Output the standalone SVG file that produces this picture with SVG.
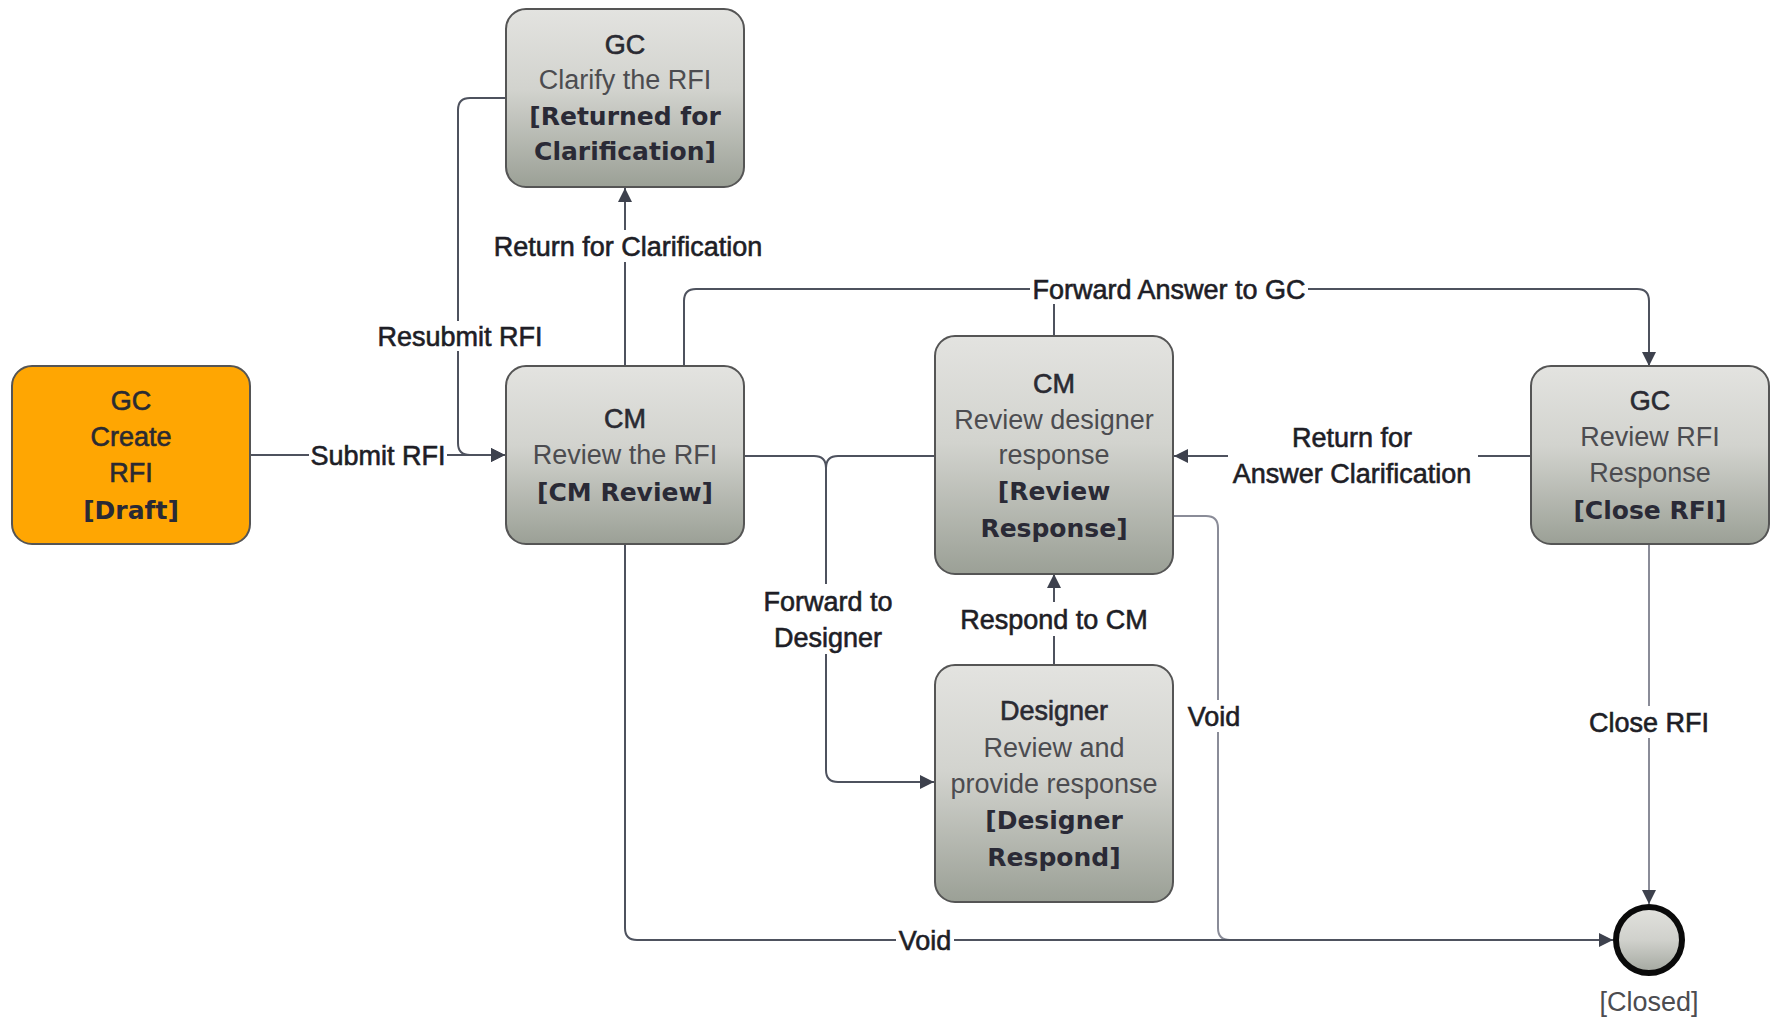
<svg xmlns="http://www.w3.org/2000/svg" width="1771" height="1018" viewBox="0 0 1771 1018">
<defs>
<linearGradient id="gray" x1="0" y1="0" x2="0" y2="1">
<stop offset="0" stop-color="#e3e3e0"/>
<stop offset="0.45" stop-color="#d2d3ce"/>
<stop offset="1" stop-color="#9ba096"/>
</linearGradient>
<linearGradient id="endg" x1="0" y1="0" x2="0" y2="1">
<stop offset="0" stop-color="#e2e2de"/>
<stop offset="0.5" stop-color="#d0d1cc"/>
<stop offset="1" stop-color="#a3a79f"/>
</linearGradient>
<marker id="arr" markerUnits="userSpaceOnUse" markerWidth="16" markerHeight="14" refX="14" refY="7" orient="auto">
<path d="M0,0 L14,7 L0,14 z" fill="#3d414d"/>
</marker>
<style>
.node{stroke:#555;stroke-width:2}
.gray{fill:url(#gray)}
.orange{fill:#ffa602}
.t{font-family:"Liberation Sans",Arial,sans-serif;font-size:27px;text-anchor:middle}
.title{fill:#2a2a32;stroke:#2a2a32;stroke-width:0.6}
.desc{fill:#4c4c50}
.status{font-family:"DejaVu Sans",sans-serif;font-weight:bold;font-size:25px;fill:#2a2a36;text-anchor:middle}
.line{fill:none;stroke:#4e525e;stroke-width:2}
.light{stroke:#8a8c98}
.lbl{font-family:"Liberation Sans",Arial,sans-serif;font-size:27px;fill:#1e1e26;stroke:#1e1e26;stroke-width:0.6;text-anchor:middle}
.bg{fill:#fff}
</style>
</defs>
<rect width="1771" height="1018" fill="#fff"/>

<g id="connectors">
<path class="line" d="M251,455 H505" marker-end="url(#arr)"/>
<path class="line" d="M505,98 H470 Q458,98 458,110 V443 Q458,455 470,455 H505" marker-end="url(#arr)"/>
<path class="line" d="M625,366 V188" marker-end="url(#arr)"/>
<path class="line" d="M684,366 V301 Q684,289 696,289 H1637 Q1649,289 1649,301 V366" marker-end="url(#arr)"/>
<path class="line" d="M1054,335 V289"/>
<path class="line" d="M744,456 H814 Q826,456 826,468"/>
<path class="line" d="M934,456 H838 Q826,456 826,468 V770 Q826,782 838,782 H934" marker-end="url(#arr)"/>
<path class="line" d="M1054,664 V574" marker-end="url(#arr)"/>
<path class="line" d="M1530,456 H1174" marker-end="url(#arr)"/>
<path class="line light" d="M1174,516 H1206 Q1218,516 1218,528 V928 Q1218,940 1230,940"/>
<path class="line" d="M625,544 V928 Q625,940 637,940 H1613" marker-end="url(#arr)"/>
<path class="line light" d="M1649,544 V904" marker-end="url(#arr)"/>

<rect class="bg" x="309" y="440" width="138" height="30"/>
<text class="lbl" x="378" y="465">Submit RFI</text>
<rect class="bg" x="375" y="321" width="170" height="30"/>
<text class="lbl" x="460" y="346">Resubmit RFI</text>
<rect class="bg" x="484" y="230" width="288" height="32"/>
<text class="lbl" x="628" y="256">Return for Clarification</text>
<rect class="bg" x="1030" y="274" width="278" height="30"/>
<text class="lbl" x="1169" y="299">Forward Answer to GC</text>
<rect class="bg" x="758" y="584" width="140" height="70"/>
<text class="lbl" x="828" y="611">Forward to</text>
<text class="lbl" x="828" y="647">Designer</text>
<rect class="bg" x="958" y="602" width="194" height="34"/>
<text class="lbl" x="1054" y="629">Respond to CM</text>
<rect class="bg" x="1228" y="420" width="250" height="72"/>
<text class="lbl" x="1352" y="447">Return for</text>
<text class="lbl" x="1352" y="483">Answer Clarification</text>
<rect class="bg" x="1186" y="700" width="62" height="32"/>
<text class="lbl" x="1214" y="726">Void</text>
<rect class="bg" x="896" y="925" width="58" height="30"/>
<text class="lbl" x="925" y="950">Void</text>
<rect class="bg" x="1590" y="706" width="118" height="32"/>
<text class="lbl" x="1649" y="732">Close RFI</text>
</g>

<g id="gc-create">
<rect class="node orange" x="12" y="366" width="238" height="178" rx="20"/>
<text class="t title" x="131" y="410">GC</text>
<text class="t title" x="131" y="446">Create</text>
<text class="t title" x="131" y="482">RFI</text>
<text class="status" x="131" y="519">[Draft]</text>
</g>

<g id="gc-clarify">
<rect class="node gray" x="506" y="9" width="238" height="178" rx="20"/>
<text class="t title" x="625" y="54">GC</text>
<text class="t desc" x="625" y="89">Clarify the RFI</text>
<text class="status" x="625" y="125">[Returned for</text>
<text class="status" x="625" y="160">Clarification]</text>
</g>

<g id="cm-review">
<rect class="node gray" x="506" y="366" width="238" height="178" rx="20"/>
<text class="t title" x="625" y="428">CM</text>
<text class="t desc" x="625" y="464">Review the RFI</text>
<text class="status" x="625" y="501">[CM Review]</text>
</g>

<g id="cm-review-response">
<rect class="node gray" x="935" y="336" width="238" height="238" rx="20"/>
<text class="t title" x="1054" y="393">CM</text>
<text class="t desc" x="1054" y="429">Review designer</text>
<text class="t desc" x="1054" y="464">response</text>
<text class="status" x="1054" y="500">[Review</text>
<text class="status" x="1054" y="537">Response]</text>
</g>

<g id="designer-respond">
<rect class="node gray" x="935" y="665" width="238" height="237" rx="20"/>
<text class="t title" x="1054" y="720">Designer</text>
<text class="t desc" x="1054" y="757">Review and</text>
<text class="t desc" x="1054" y="793">provide response</text>
<text class="status" x="1054" y="829">[Designer</text>
<text class="status" x="1054" y="866">Respond]</text>
</g>

<g id="gc-close">
<rect class="node gray" x="1531" y="366" width="238" height="178" rx="20"/>
<text class="t title" x="1650" y="410">GC</text>
<text class="t desc" x="1650" y="446">Review RFI</text>
<text class="t desc" x="1650" y="482">Response</text>
<text class="status" x="1650" y="519">[Close RFI]</text>
</g>

<g id="closed">
<circle cx="1649" cy="940" r="33" fill="url(#endg)" stroke="#0a0a0a" stroke-width="6"/>
<text class="t desc" x="1649" y="1011">[Closed]</text>
</g>
</svg>
